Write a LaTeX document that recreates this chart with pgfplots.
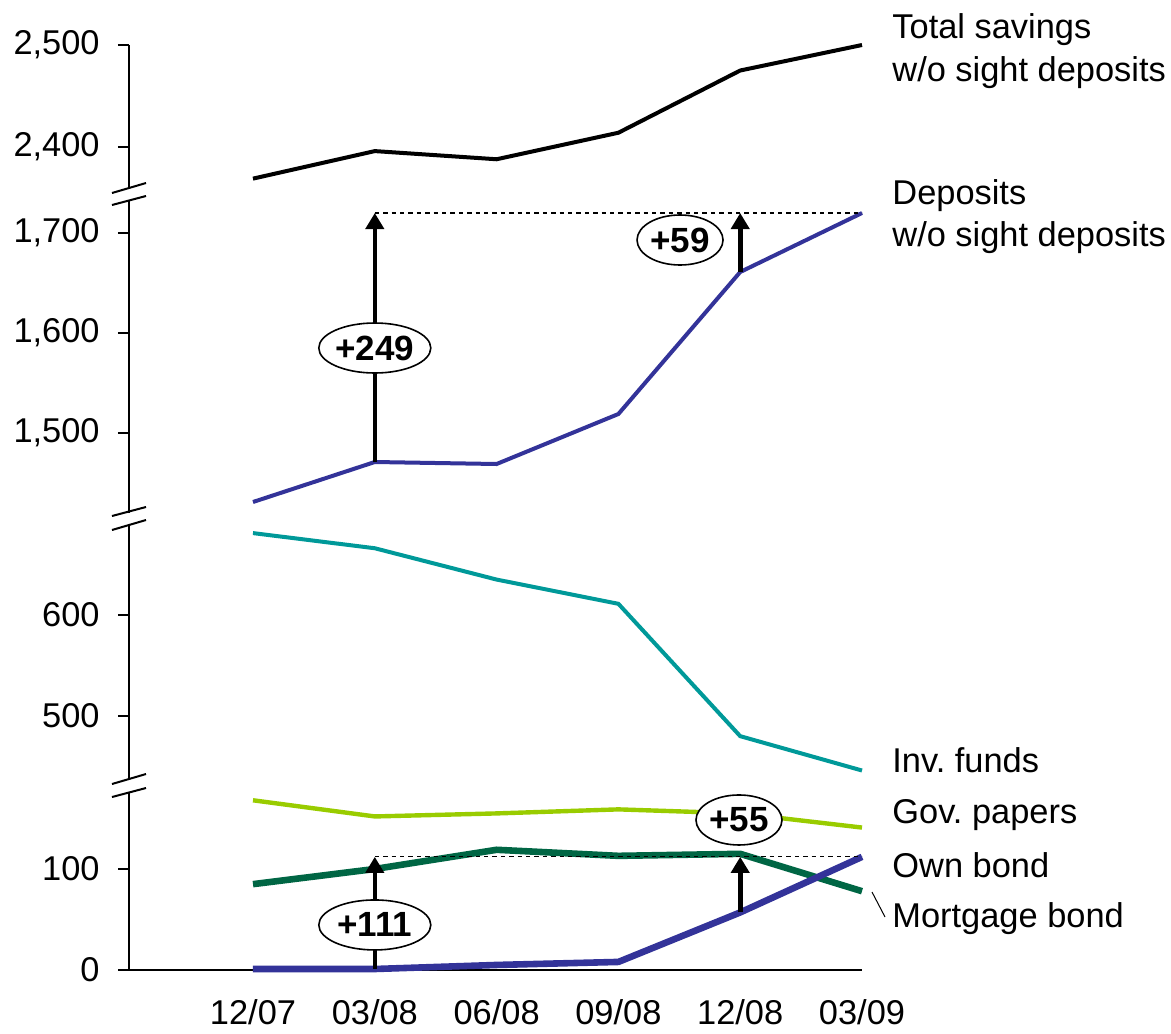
\documentclass[border=0pt]{standalone}
\usepackage{fontspec}
\setmainfont{Liberation Sans}
\usepackage{pgfplots}
\usepackage{pgfplotstable}
\pgfplotsset{compat=1.18}
\usetikzlibrary{arrows.meta,shapes.geometric}
\frenchspacing

\definecolor{depblue}{RGB}{51,51,153}
\definecolor{fundteal}{RGB}{0,153,153}
\definecolor{govgreen}{RGB}{153,204,0}
\definecolor{mortgreen}{RGB}{0,102,68}

\newcommand{\lbl}{\fontsize{17.2}{20}\selectfont}

% 12/07 .. 03/09 at x = 0..5
\pgfplotstableread{
x total deposits funds gov own mortgage
0 2369 1431 681 168 1 85
1 2396 1471 666 152 1 100
2 2388 1469 635 155 5 119
3 2414 1519 611 159 8 113
4 2475 1661 480 155 57 115
5 2500 1720 446 141 112 78
}\data

\pgfplotsset{
  seg/.style={
    scale only axis, width=366.5pt,
    xmin=-1.018, xmax=5,
    axis y line*=left,
    axis line style={line width=1pt,-},
    clip=false,
    tick align=outside, major tick length=5.5pt,
    ytick style={line width=1pt,black},
    yticklabel style={font=\lbl, inner sep=0pt, anchor=east, xshift=-9pt},
    anchor=south west,
    /pgf/number format/1000 sep={,},
    /pgf/number format/assume math mode=true,
  },
}
\tikzset{
  sthin/.style={line width=2pt},
  sthick/.style={line width=3.3pt},
  arr/.style={line width=2.3pt, -{Triangle[width=9pt,length=8pt]}},
  dashln/.style={line width=0.6pt, dash pattern=on 2.2pt off 2pt},
  lab/.style={draw, ellipse, line width=0.8pt, fill=white, inner sep=0pt,
    minimum height=25pt, font=\fontsize{17.5}{20}\selectfont\bfseries},
}

\begin{document}
\begin{tikzpicture}
\useasboundingbox (0pt,0pt) rectangle (585.5pt,-516.5pt);

% bottom segment: bonds and government papers
\begin{axis}[seg, at={(64.5pt,-485pt)}, height=88.5pt,
  ymin=0, ymax=175.2, ytick={0,100},
  axis x line*=bottom,
  xtick=data, xticklabels={12/07,03/08,06/08,09/08,12/08,03/09},
  xtick style={draw=none},
  xticklabel style={font=\lbl, anchor=base, yshift=-21.5pt}]
\draw[line width=0.8pt] (axis cs:-1.018,0) -- (axis cs:5,0);
\addplot[no marks, govgreen, line width=2.2pt] table[x=x,y=gov]{\data};
\addplot[no marks, sthick, mortgreen] table[x=x,y=mortgage]{\data};
\addplot[no marks, sthick, depblue] table[x=x,y=own]{\data};
\draw[dashln] (axis cs:1,112) -- (axis cs:5,112);
\draw[arr] (axis cs:1,1) -- (axis cs:1,112);
\draw[arr] (axis cs:4,57) -- (axis cs:4,112);
\node[lab, minimum width=56pt] at (axis cs:1,44.6) {+111};
\node[lab, minimum width=43pt] at (axis cs:3.99,148.5) {+55};
\end{axis}

% investment funds
\begin{axis}[seg, at={(64.5pt,-390pt)}, height=127.5pt, axis x line=none,
  ymin=436.6, ymax=689, ytick={500,600}]
\addplot[no marks, sthin, fundteal] table[x=x,y=funds]{\data};
\end{axis}

% deposits
\begin{axis}[seg, at={(64.5pt,-256.5pt)}, height=156.5pt, axis x line=none,
  ymin=1420, ymax=1733, ytick={1500,1600,1700}]
\addplot[no marks, sthin, depblue] table[x=x,y=deposits]{\data};
\draw[dashln] (axis cs:1,1720) -- (axis cs:5,1720);
\draw[arr] (axis cs:1,1471) -- (axis cs:1,1720);
\draw[arr] (axis cs:4,1661) -- (axis cs:4,1720);
\node[lab, minimum width=56pt] at (axis cs:1,1585) {+249};
\node[lab, minimum width=43pt] at (axis cs:3.506,1693) {+59};
\end{axis}

% total savings
\begin{axis}[seg, at={(64.5pt,-93.5pt)}, height=71pt, axis x line=none,
  ymin=2360.8, ymax=2500, ytick={2400,2500}]
\addplot[no marks, sthin, black] table[x=x,y=total]{\data};
\end{axis}

% axis break marks
\foreach \a/\b/\c/\d in {96.5/91.5/102.5/98, 258/253.5/265/260, 392/387/398.5/394}{
  \draw[line width=1pt] (56pt,-\a pt) -- (73pt,-\b pt);
  \draw[line width=1pt] (56pt,-\c pt) -- (73pt,-\d pt);
}

% series labels
\begin{scope}[every node/.style={anchor=base west, inner sep=0pt, font=\lbl}]
\node at (446pt,-19.5pt) {Total savings};
\node at (446pt,-40.5pt) {w/o sight deposits};
\node at (446pt,-102pt) {Deposits};
\node at (446pt,-123pt) {w/o sight deposits};
\node at (446pt,-386pt) {Inv. funds};
\node at (446pt,-411.5pt) {Gov. papers};
\node at (446pt,-438.5pt) {Own bond};
\node at (446pt,-463.5pt) {Mortgage bond};
\end{scope}
\draw[line width=0.5pt] (436pt,-446pt) -- (442.5pt,-458.5pt);
\end{tikzpicture}
\end{document}
